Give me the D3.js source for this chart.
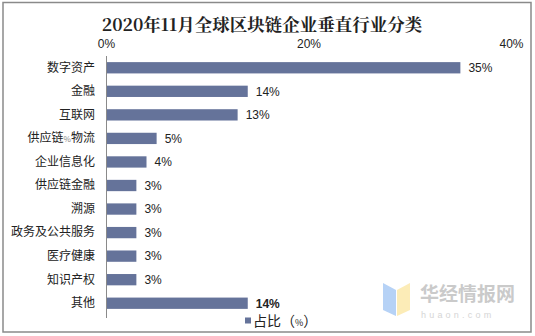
<!DOCTYPE html>
<html>
<head>
<meta charset="utf-8">
<script src="https://cdn.jsdelivr.net/npm/d3@7"></script>
<style>
  html, body { margin: 0; padding: 0; background: #fff; }
  svg { display: block; }
</style>
</head>
<body>
<svg id="chart" width="535" height="336"></svg>
<script>
// Vertical industry breakdown of blockchain companies, Nov 2020
const categories = ["数字资产", "金融", "互联网", "供应链%物流", "企业信息化", "供应链金融", "溯源", "政务及公共服务", "医疗健康", "知识产权", "其他"];
const shares = [35, 14, 13, 5, 4, 3, 3, 3, 3, 3, 14];
const tickValues = [0, 20, 40];
const titleText = "2020年11月全球区块链企业垂直行业分类";
const legendText = "占比（%）";

const svg = d3.select("#chart");
const W = 535, H = 336;
const barColor = "#65739a";
const cjk = "'Noto Sans CJK SC', 'Noto Sans', sans-serif";
const latin = "'Liberation Sans', Arial, sans-serif";

// outer frame
svg.append("rect")
  .attr("x", 3).attr("y", 2.5).attr("width", 528).attr("height", 329.5)
  .attr("fill", "#fff").attr("stroke", "#8a8a8a").attr("stroke-width", 1.5);

// title
svg.append("text")
  .attr("x", 262).attr("y", 31)
  .attr("text-anchor", "middle")
  .attr("font-family", "'Noto Serif CJK SC', 'Noto Sans CJK SC', serif")
  .attr("font-weight", "bold")
  .attr("font-size", 17.5)
  .attr("fill", "#222")
  .text(titleText);

const x = d3.scaleLinear().domain([0, 40]).range([106, 511]);
const y = d3.scaleBand().domain(categories).range([56, 315]).paddingInner(0.52).paddingOuter(0.26);

// top value axis (labels only)
const xAxis = svg.append("g")
  .attr("transform", "translate(0,48)")
  .call(d3.axisTop(x).tickValues(tickValues).tickFormat(d => d + "%").tickSize(0).tickPadding(0));
xAxis.select(".domain").remove();
xAxis.selectAll("text")
  .attr("font-family", latin).attr("font-size", 12).attr("fill", "#222");

// bars
svg.append("g").selectAll("rect")
  .data(categories)
  .join("rect")
  .attr("x", x(0))
  .attr("y", d => y(d))
  .attr("width", (d, i) => x(shares[i]) - x(0))
  .attr("height", y.bandwidth())
  .attr("fill", barColor);

// category axis
const yAxis = svg.append("g")
  .attr("transform", `translate(${x(0)},0)`)
  .call(d3.axisLeft(y).tickSize(0).tickPadding(11));
yAxis.select(".domain").attr("stroke", "#8a8a8a").attr("d", "M0.5,56V318");
yAxis.selectAll("text")
  .attr("font-family", cjk).attr("font-size", 12).attr("fill", "#222")
  .each(function(d) {
    const t = d3.select(this);
    if (d.includes("%")) {
      const [a, b] = d.split("%");
      t.text(null);
      t.append("tspan").text(a);
      t.append("tspan").attr("font-size", 8).attr("fill", "#888").text("%");
      t.append("tspan").text(b);
    }
  });

// value labels
svg.append("g").selectAll("text")
  .data(categories)
  .join("text")
  .attr("x", (d, i) => x(shares[i]) + 8)
  .attr("y", d => y(d) + y.bandwidth() / 2)
  .attr("dy", "0.36em")
  .attr("font-family", latin)
  .attr("font-size", 12)
  .attr("font-weight", (d, i) => i === categories.length - 1 ? "bold" : "normal")
  .attr("fill", "#222")
  .text((d, i) => shares[i] + "%");

// legend
const lg = svg.append("g").attr("transform", "translate(245,321)");
lg.append("rect").attr("x", 0).attr("y", -3.5).attr("width", 6).attr("height", 6).attr("fill", barColor);
const lt = lg.append("text").attr("x", 8).attr("y", 0).attr("dy", "0.36em")
  .attr("font-family", cjk).attr("font-size", 14).attr("fill", "#222");
lt.append("tspan").text("占比（");
lt.append("tspan").attr("font-size", 9).text("%");
lt.append("tspan").text("）");

// publisher mark
const wm = svg.append("g").attr("opacity", 0.75);
wm.append("path").attr("d", "M383,283 L396,290 L396,316 L383,310 Z").attr("fill", "#9ec3f3");
wm.append("path").attr("d", "M397,290 L410,283 L410,310 L397,316 Z").attr("fill", "#fbe6a0");
wm.append("text").attr("x", 420).attr("y", 301)
  .attr("font-family", cjk).attr("font-weight", "bold").attr("font-size", 19).attr("fill", "#b9b9b9")
  .text("华经情报网");
wm.append("text").attr("x", 421).attr("y", 318)
  .attr("font-family", latin).attr("font-size", 9).attr("letter-spacing", 3.2).attr("fill", "#c8c8c8")
  .text("huaon.com");
</script>
</body>
</html>
